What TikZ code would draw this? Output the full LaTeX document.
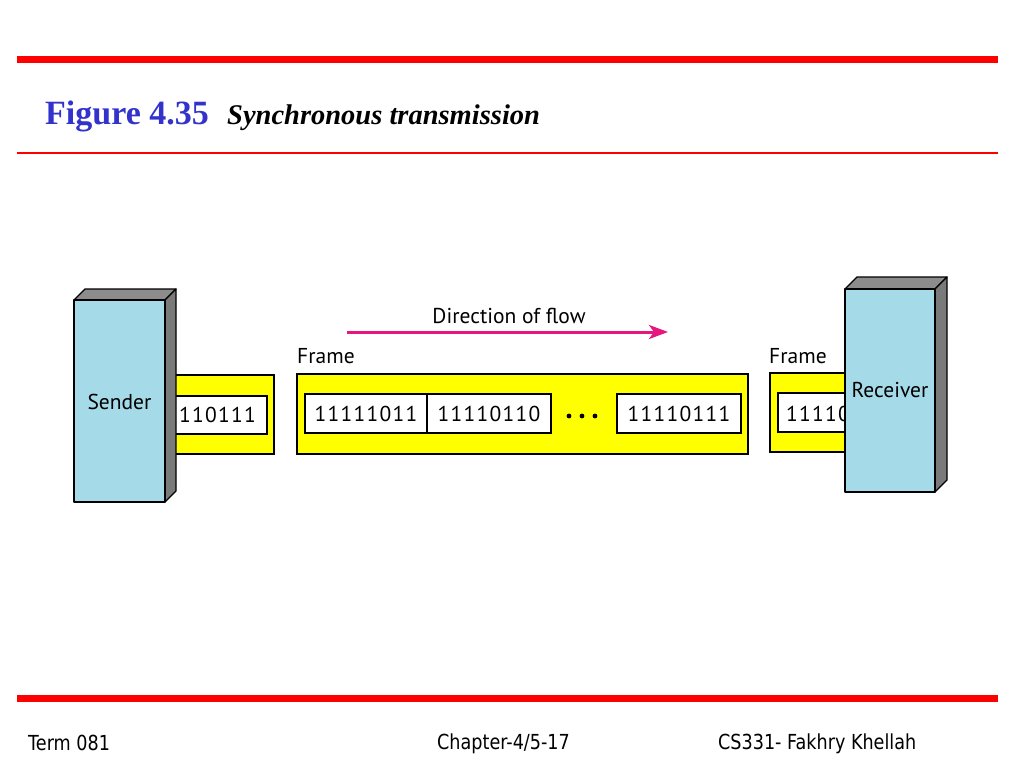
\documentclass[tikz,border=0pt]{standalone}
\usepackage{fontspec}
\setmainfont{Liberation Serif}
\newfontfamily\diagfont{PT Sans}
\newfontfamily\digitfont[LetterSpace=6]{PT Sans}
\newfontfamily\footfont[FakeStretch=0.85]{DejaVu Sans}
\usetikzlibrary{arrows.meta}
\definecolor{barred}{HTML}{FF0000}
\definecolor{titleblue}{HTML}{3333CC}
\definecolor{boxblue}{HTML}{A5DAE8}
\definecolor{sidegray}{HTML}{7A7A7A}
\definecolor{topgray}{HTML}{8C8C8C}
\definecolor{frameyellow}{HTML}{FFFF00}
\definecolor{flowpink}{HTML}{E5177F}
\tikzset{
  ybox/.style={draw=black, fill=frameyellow, line width=1.2pt},
  wbox/.style={draw=black, fill=white, line width=1.2pt},
  front/.style={draw=black, fill=boxblue, line width=1.3pt, line join=round},
  side/.style={draw=black, fill=sidegray, line width=1.3pt, line join=round},
  topface/.style={draw=black, fill=topgray, line width=1.3pt, line join=round},
  lbl/.style={font=\diagfont\fontsize{21.5}{24}\selectfont, inner sep=0pt},
  bits/.style={font=\digitfont\fontsize{21.5}{24}\selectfont, inner sep=0pt},
  foot/.style={font=\footfont\fontsize{20.7}{24}\selectfont, inner sep=0pt, anchor=base west},
}
\begin{document}
\begin{tikzpicture}[x=1pt,y=-1pt]
\useasboundingbox (0,0) rectangle (1024,768);
% header / footer bars
\fill[barred] (17,56) rectangle (998,63);
\fill[barred] (17,152) rectangle (998,154);
\fill[barred] (17,695) rectangle (998,702);
\node[anchor=base west, inner sep=0pt, text=titleblue, font=\bfseries\fontsize{34}{40}\selectfont] (fig) at (45,124) {Figure 4.35};
\node[anchor=base west, inner sep=0pt, font=\bfseries\itshape\fontsize{28.5}{32}\selectfont] (cap) at (227,124) {Synchronous transmission};
\node[foot] (term) at (28,750) {Term 081};
\node[foot] (chap) at (437,749) {Chapter-4/5-17};
\node[foot] (auth) at (718,749) {CS331- Fakhry Khellah};

% sender's frame (behind sender)
\draw[ybox] (165,375) rectangle (274,454);
\draw[wbox] (165,396) rectangle (267,434);
\node[bits, anchor=base east] (sb) at (256,422) {110111};

% sender box
\draw[topface] (74,300) -- (85,289) -- (176,289) -- (165,300) -- cycle;
\draw[side] (165,300) -- (176,289) -- (176,491) -- (165,502) -- cycle;
\draw[front] (74,300) rectangle (165,502);
\node[lbl] (sender) at (119.5,402) {Sender};

% main frame
\node[lbl, anchor=base west] (fl1) at (297,363) {Frame};
\draw[ybox] (297,374) rectangle (748,454);
\draw[wbox] (305,394) rectangle (427,433);
\draw[wbox] (427,394) rectangle (551,433);
\draw[wbox] (617,394) rectangle (741,433);
\node[bits] (b1) at (366,413.5) {11111011};
\node[bits] (b2) at (489,413.5) {11110110};
\node[bits] (b3) at (679,413.5) {11110111};
\foreach \x in {569,582,595} \fill (\x,416) circle (2.4);

% direction of flow
\node[lbl, anchor=base] (dir) at (509,323) {Direction of flow};
\coordinate (fs) at (347,332);
\coordinate (fe) at (668,332);
\draw[flowpink, line width=3pt, -{Stealth[length=19pt,width=14pt,inset=5pt]}] (fs) -- (fe);

% receiver's frame (behind receiver)
\node[lbl, anchor=base west] (fl2) at (769,363) {Frame};
\draw[ybox] (770,373) rectangle (870,452);
\draw[wbox] (778,393) rectangle (870,432);
\node[bits, anchor=base west] (rb) at (786,421) {11110};

% receiver box
\draw[topface] (845,289) -- (857,277) -- (947,277) -- (935,289) -- cycle;
\draw[side] (935,289) -- (947,277) -- (947,480) -- (935,492) -- cycle;
\draw[front] (845,289) rectangle (935,492);
\node[lbl] (receiver) at (890,390) {Receiver};
\end{tikzpicture}
\end{document}
